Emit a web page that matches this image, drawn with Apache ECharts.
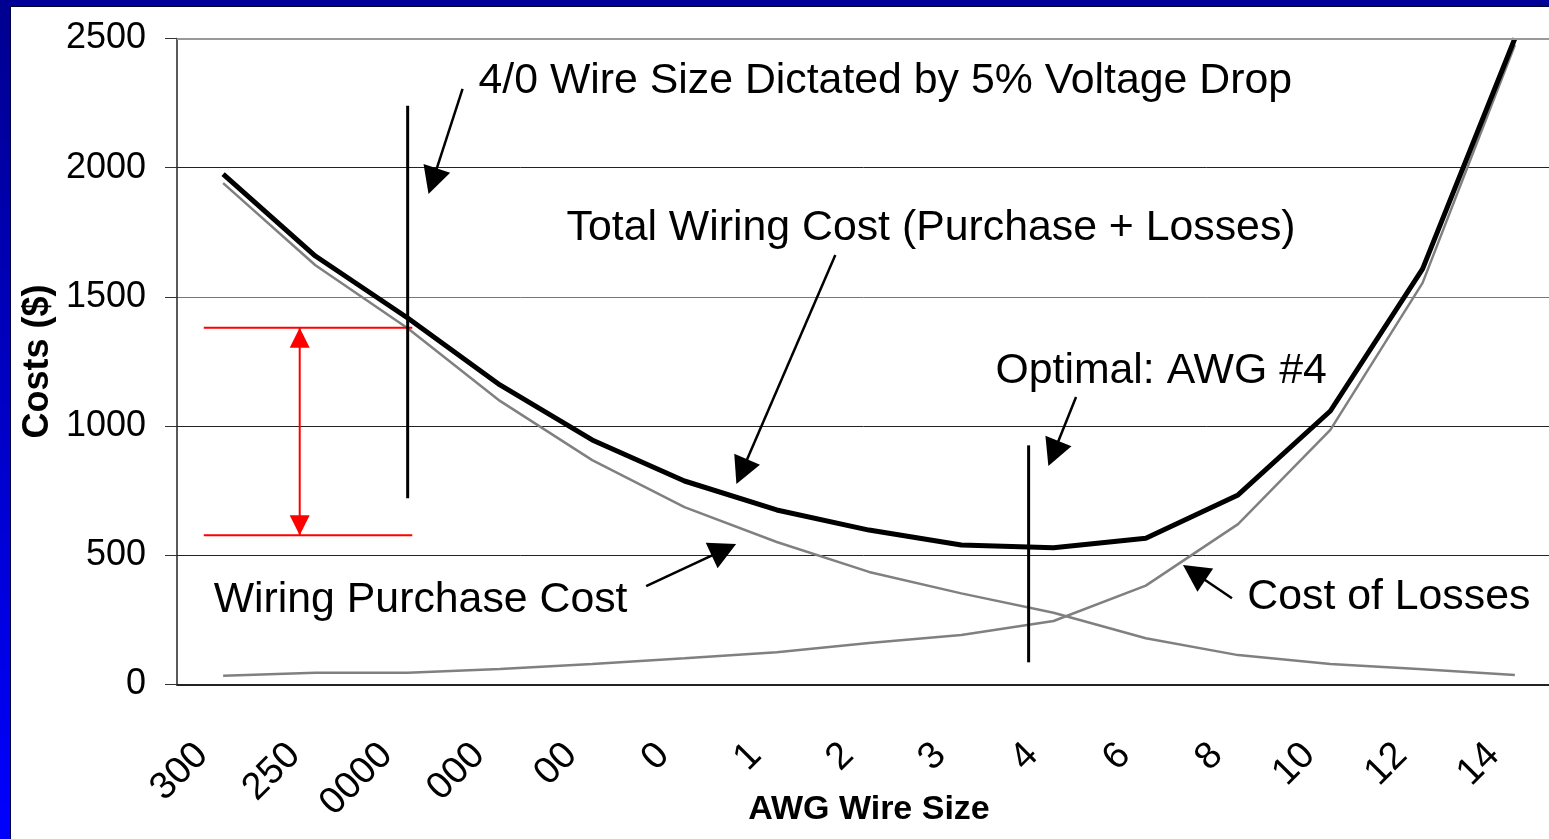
<!DOCTYPE html>
<html>
<head>
<meta charset="utf-8">
<title>Wiring cost vs AWG wire size</title>
<script src="https://cdn.jsdelivr.net/npm/echarts@6/dist/echarts.min.js"></script>
<style>
  html, body { margin: 0; padding: 0; background: #ffffff; overflow: hidden; }
  #chart { width: 1549px; height: 839px; }
</style>
</head>
<body>
<div id="chart"></div>
<script>
// Wire sizes, largest conductor on the left
const categories = ['300', '250', '0000', '000', '00', '0', '1', '2', '3', '4', '6', '8', '10', '12', '14'];

// Costs in dollars for each wire size
const purchaseCost = [1940, 1622, 1378, 1097, 868, 686, 551, 435, 352, 277, 178, 113, 79, 58, 36];
const lossCost     = [33, 45, 45, 59, 79, 101, 124, 160, 191, 245, 382, 620, 985, 1554, 2475];
const totalCost    = [1975, 1658, 1418, 1159, 946, 787, 675, 597, 539, 529, 565, 733, 1058, 1608, 2500];

// Y axis range
const yMin = 0, yMax = 2500, yStep = 500;

// Annotations, in data space: x = category position (0 = '300'), y = dollars
const markerLines = [
  { from: [2, 720], to: [2, 2240] },        // 4/0 limit
  { from: [8.73, 85], to: [8.73, 925] }     // optimum
];
const redLevels = [
  { from: [-0.21, 1380], to: [2.05, 1380] },
  { from: [-0.21, 577], to: [2.05, 577] }
];
const redSpan = { from: [0.83, 1380], to: [0.83, 577] };
const arrows = [
  { tail: [2.595, 2305], tip: [2.226, 1898] },
  { tail: [6.635, 1662], tip: [5.563, 775] },
  { tail: [9.244, 1112], tip: [8.944, 845] },
  { tail: [4.585, 380], tip: [5.56, 543] },
  { tail: [10.934, 333], tip: [10.403, 462] }
];
const notes = [
  { text: '4/0 Wire Size Dictated by 5% Voltage Drop', at: [2.768, 2335] },
  { text: 'Total Wiring Cost (Purchase + Losses)', at: [3.722, 1764] },
  { text: 'Optimal: AWG #4', at: [8.37, 1213] },
  { text: 'Wiring Purchase Cost', at: [-0.103, 326] },
  { text: 'Cost of Losses', at: [11.1, 338] }
];

const FONT = '"Liberation Sans", Arial, Helvetica, sans-serif';
const chart = echarts.init(document.getElementById('chart'), null, { renderer: 'canvas' });

chart.setOption({
  backgroundColor: '#ffffff',
  animation: false,
  grid: {
    left: 177, top: 38.5, bottom: 154.7, right: -12,
    containLabel: false,
    outerBoundsMode: 'none'
  },
  xAxis: [
    {
      type: 'category',
      data: categories,
      boundaryGap: true,
      name: 'AWG Wire Size',
      nameLocation: 'middle',
      nameGap: 108,
      nameMoveOverlap: false,
      nameTextStyle: { fontFamily: FONT, fontSize: 34, fontWeight: 'bold', color: '#000' },
      axisLine: { show: true, onZero: false, lineStyle: { color: '#222', width: 2 } },
      axisTick: { show: false },
      axisLabel: {
        rotate: 45,
        interval: 0,
        margin: 44,
        padding: [0, 30, 0, 0],
        fontFamily: FONT,
        fontSize: 38,
        color: '#000'
      },
      splitLine: { show: false }
    },
    {
      // numeric twin of the category axis, used to place annotations
      type: 'value',
      min: -0.5,
      max: categories.length - 0.5,
      show: false,
      axisLine: { onZero: false },
      splitLine: { show: false }
    }
  ],
  yAxis: {
    type: 'value',
    min: yMin,
    max: yMax,
    interval: yStep,
    name: 'Costs ($)',
    nameLocation: 'middle',
    nameGap: 121,
    nameMoveOverlap: false,
    nameTextStyle: { fontFamily: FONT, fontSize: 36, fontWeight: 'bold', color: '#000' },
    axisLine: { show: true, onZero: false, lineStyle: { color: '#222', width: 1.5 } },
    axisTick: { show: true, inside: false, length: 12, lineStyle: { color: '#333', width: 1 } },
    axisLabel: {
      margin: 31,
      fontFamily: FONT,
      fontSize: 36,
      color: '#000',
      formatter: v => String(v)
    },
    splitLine: { show: true, lineStyle: { color: ['#222', '#222', '#222', '#777', '#222', '#999'], width: 1 } }
  },
  series: [
    {
      name: 'Wiring Purchase Cost',
      type: 'line',
      data: purchaseCost,
      symbol: 'none',
      lineStyle: { color: '#808080', width: 2.5 },
      z: 2
    },
    {
      name: 'Cost of Losses',
      type: 'line',
      data: lossCost,
      symbol: 'none',
      lineStyle: { color: '#808080', width: 2.5 },
      z: 2
    },
    {
      name: 'Total Wiring Cost',
      type: 'line',
      data: totalCost,
      symbol: 'none',
      lineStyle: { color: '#000000', width: 5 },
      z: 3,
      // top border of the plot area
      markLine: {
        silent: true,
        symbol: 'none',
        label: { show: false },
        lineStyle: { color: '#999', width: 2, type: 'solid' },
        data: [{ yAxis: yMax }]
      }
    }
  ]
});

function toPx(p) {
  return chart.convertToPixel({ xAxisIndex: 1, yAxisIndex: 0 }, p);
}

function head(tipPx, fromPx, len, width, color) {
  const dx = tipPx[0] - fromPx[0], dy = tipPx[1] - fromPx[1];
  const d = Math.hypot(dx, dy);
  const ux = dx / d, uy = dy / d;
  const bx = tipPx[0] - ux * len, by = tipPx[1] - uy * len;
  const nx = -uy * width / 2, ny = ux * width / 2;
  return {
    type: 'polygon',
    shape: { points: [[tipPx[0], tipPx[1]], [bx + nx, by + ny], [bx - nx, by - ny]] },
    style: { fill: color },
    z: 20
  };
}

function segment(a, b, color, width, z) {
  return {
    type: 'line',
    shape: { x1: a[0], y1: a[1], x2: b[0], y2: b[1] },
    style: { stroke: color, lineWidth: width },
    z: z || 15
  };
}

const g = [];

// slide frame
g.push({ type: 'rect', shape: { x: 0, y: 0, width: 1549, height: 6 }, style: { fill: '#000099' }, z: 50 });
g.push({ type: 'rect', shape: { x: 0, y: 6, width: 1549, height: 1 }, style: { fill: '#000033' }, z: 50 });
g.push({
  type: 'rect', shape: { x: 0, y: 0, width: 10, height: 839 },
  style: {
    fill: new echarts.graphic.LinearGradient(0, 0, 0, 1, [
      { offset: 0, color: '#000090' },
      { offset: 1, color: '#0000ff' }
    ])
  },
  z: 51
});
g.push({ type: 'rect', shape: { x: 10, y: 6, width: 1, height: 833 }, style: { fill: '#000044' }, z: 51 });

// vertical markers
markerLines.forEach(m => g.push(segment(toPx(m.from), toPx(m.to), '#000', 3, 16)));

// red span indicator
redLevels.forEach(r => g.push(segment(toPx(r.from), toPx(r.to), '#ff0000', 2, 14)));
{
  const a = toPx(redSpan.from), b = toPx(redSpan.to);
  g.push(segment(a, b, '#ff0000', 2, 14));
  g.push(head(a, b, 20, 20, '#ff0000'));
  g.push(head(b, a, 20, 20, '#ff0000'));
}

// callout arrows
arrows.forEach(ar => {
  const t = toPx(ar.tail), p = toPx(ar.tip);
  const dx = p[0] - t[0], dy = p[1] - t[1], d = Math.hypot(dx, dy);
  const end = [p[0] - dx / d * 20, p[1] - dy / d * 20];
  g.push(segment(t, end, '#000', 2.5, 18));
  g.push(head(p, t, 27, 28, '#000'));
});

// callout text
notes.forEach(n => {
  const p = toPx(n.at);
  g.push({
    type: 'text',
    x: p[0], y: p[1],
    style: {
      text: n.text,
      fontFamily: FONT,
      fontSize: 42.8,
      fill: '#000',
      align: 'left',
      verticalAlign: 'middle'
    },
    z: 25
  });
});

chart.setOption({ graphic: g });
</script>
</body>
</html>
